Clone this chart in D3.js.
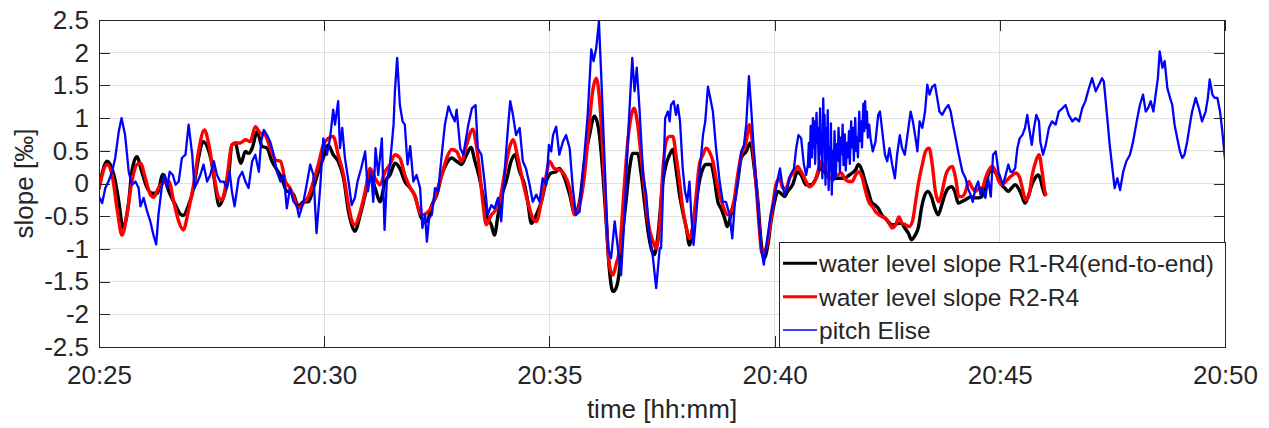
<!DOCTYPE html>
<html>
<head>
<meta charset="utf-8">
<script src="https://cdn.jsdelivr.net/npm/d3@7"></script>
<style>
  html, body { margin: 0; padding: 0; background: #fff; }
  svg text { font-family: "Liberation Sans", Arial, Helvetica, sans-serif; fill: #262626; }
</style>
</head>
<body>
<svg id="chart" width="1269" height="428"></svg>
<script>
// ---- data: [minutes after 20:25, slope in ‰] ----
const slopeR1R4 = [
  [0,-0.07],[0.18,0.34],[0.33,0.13],[0.44,-0.28],[0.51,-0.63],[0.53,-0.68],[0.66,-0.28],[0.73,0.18],[0.84,0.41],[0.95,0.18],[1.07,-0.07],[1.18,-0.15],[1.29,-0.15],[1.42,0.14],[1.55,-0.12],[1.70,-0.33],[1.81,-0.47],[1.87,-0.49],[1.99,-0.33],[2.10,-0.07],[2.21,0.39],[2.31,0.64],[2.40,0.57],[2.51,0.29],[2.61,-0.17],[2.66,-0.34],[2.77,-0.20],[2.88,0.13],[2.95,0.59],[3.03,0.62],[3.10,0.41],[3.15,0.31],[3.25,0.49],[3.32,0.46],[3.40,0.54],[3.51,0.79],[3.62,0.57],[3.73,0.54],[3.84,0.34],[3.95,0.21],[4.06,0.08],[4.17,-0.12],
  [4.24,-0.12],[4.32,-0.17],[4.43,-0.35],[4.54,-0.28],[4.65,-0.28],[4.76,-0.07],[4.87,0.18],[4.98,0.39],[5.09,0.59],[5.20,0.44],[5.31,0.34],[5.43,0.08],[5.54,-0.43],[5.61,-0.63],[5.68,-0.73],[5.80,-0.48],[5.91,-0.17],[6.02,0.13],[6.13,-0.07],[6.24,-0.28],[6.35,0.03],[6.46,0.13],[6.57,0.31],[6.68,0.23],[6.79,0.03],[6.91,-0.07],[7.02,-0.20],[7.09,-0.38],[7.16,-0.53],[7.28,-0.58],[7.39,-0.33],[7.50,-0.17],[7.61,0.13],[7.72,0.31],[7.83,0.39],[7.94,0.34],[8.05,0.29],[8.16,0.44],[8.26,0.55],[8.35,0.33],
  [8.45,0.08],[8.52,-0.17],[8.60,-0.48],[8.71,-0.63],[8.78,-0.79],[8.86,-0.48],[8.97,-0.12],[9.04,0.03],[9.15,0.34],[9.23,0.44],[9.34,0.18],[9.45,-0.02],[9.52,-0.28],[9.60,-0.61],[9.71,-0.48],[9.82,-0.28],[9.93,0.03],[10.04,0.16],[10.15,0.18],[10.22,0.23],[10.34,0.08],[10.45,-0.17],[10.56,-0.45],[10.67,-0.28],[10.78,0.34],[10.89,0.74],[11.00,1.03],[11.10,0.80],[11.19,0.13],[11.26,-0.58],[11.33,-1.30],[11.41,-1.65],[11.48,-1.60],[11.56,-1.30],[11.63,-0.73],[11.70,-0.28],[11.78,0.23],[11.85,0.46],[11.96,0.46],[12.04,0.13],[12.11,-0.28],[12.19,-0.73],[12.26,-0.99],[12.33,-1.09],[12.41,-0.79],[12.52,0.03],
  [12.59,0.29],[12.67,0.44],[12.74,0.52],[12.81,0.23],[12.89,-0.17],[12.96,-0.43],[13.04,-0.68],[13.11,-0.94],[13.18,-0.68],[13.26,-0.28],[13.33,0.03],[13.41,0.23],[13.48,0.29],[13.59,0.29],[13.66,0.08],[13.74,-0.28],[13.81,-0.38],[13.89,-0.53],[13.95,-0.66],[14.03,-0.48],[14.11,-0.28],[14.18,0.03],[14.26,0.39],[14.37,0.49],[14.46,0.62],[14.55,0.23],[14.63,-0.28],[14.70,-0.89],[14.77,-1.14],[14.85,-0.94],[14.92,-0.58],[15.00,-0.28],[15.07,-0.12],[15.14,-0.15],[15.22,-0.20],[15.29,-0.12],[15.40,-0.02],[15.51,0.18],[15.59,0.13],[15.70,-0.02],[15.81,-0.02],[15.92,0.08],[16.02,0.23],[16.11,0.18],[16.22,0.08],[16.33,0.08],[16.44,0.08],[16.55,0.08],[16.66,0.13],
  [16.72,0.16],[16.80,0.21],[16.86,0.29],[16.95,0.18],[17.01,0.03],[17.08,-0.12],[17.15,-0.28],[17.23,-0.33],[17.30,-0.38],[17.38,-0.48],[17.45,-0.53],[17.52,-0.58],[17.60,-0.63],[17.67,-0.63],[17.75,-0.61],[17.82,-0.61],[17.89,-0.68],[17.97,-0.76],[18.04,-0.86],[18.12,-0.79],[18.19,-0.68],[18.26,-0.38],[18.34,-0.17],[18.41,-0.12],[18.49,-0.22],[18.56,-0.38],[18.63,-0.48],[18.71,-0.33],[18.78,-0.17],[18.86,-0.07],[18.93,-0.05],[19.00,-0.12],[19.08,-0.30],[19.15,-0.28],[19.23,-0.25],[19.30,-0.22],[19.37,-0.20],[19.45,-0.22],[19.52,-0.22],[19.60,-0.20],[19.67,-0.07],[19.74,0.13],[19.82,0.21],[19.89,0.18],[19.97,0.08],[20.04,-0.02],[20.11,-0.07],[20.19,-0.12],[20.26,-0.07],[20.34,-0.02],[20.41,-0.07],[20.48,-0.17],[20.56,-0.30],[20.63,-0.20],[20.71,-0.02],[20.78,0.08],[20.85,0.13],[20.91,0.05],[20.95,-0.07],[21.00,-0.17]
];

const slopeR2R4 = [
  [0,-0.07],[0.18,0.29],[0.29,0.13],[0.40,-0.38],[0.51,-0.79],[0.62,-0.48],[0.73,0.03],[0.84,0.29],[0.92,0.31],[1.03,0.08],[1.14,-0.17],[1.21,-0.21],[1.32,-0.07],[1.44,0.01],[1.55,0.03],[1.66,-0.28],[1.77,-0.58],[1.87,-0.71],[1.99,-0.40],[2.10,-0.02],[2.21,0.49],[2.34,0.82],[2.44,0.59],[2.55,0.13],[2.66,-0.22],[2.73,-0.25],[2.84,0.08],[2.95,0.59],[3.03,0.62],[3.14,0.62],[3.25,0.67],[3.36,0.64],[3.47,0.87],[3.58,0.77],[3.69,0.74],[3.80,0.54],[3.92,0.36],[4.03,0.34],[4.14,0.03],
  [4.24,-0.07],[4.32,-0.20],[4.43,-0.38],[4.54,-0.30],[4.65,-0.20],[4.76,0.03],[4.87,0.29],[4.98,0.59],[5.09,0.69],[5.20,0.72],[5.31,0.44],[5.43,0.13],[5.54,-0.33],[5.61,-0.56],[5.68,-0.63],[5.80,-0.43],[5.91,-0.12],[6.02,0.23],[6.13,0.08],[6.24,-0.02],[6.35,0.18],[6.46,0.29],[6.57,0.44],[6.68,0.39],[6.79,0.13],[6.91,-0.07],[7.02,-0.20],[7.09,-0.38],[7.16,-0.48],[7.28,-0.45],[7.39,-0.35],[7.50,-0.12],[7.61,0.13],[7.72,0.39],[7.83,0.52],[7.94,0.49],[8.05,0.34],[8.16,0.59],[8.30,0.83],[8.37,0.62],
  [8.45,0.20],[8.52,-0.28],[8.60,-0.63],[8.71,-0.48],[8.78,-0.43],[8.89,-0.28],[9.00,0.13],[9.11,0.54],[9.19,0.67],[9.30,0.39],[9.41,0.03],[9.52,-0.28],[9.63,-0.53],[9.71,-0.58],[9.82,-0.28],[9.93,0.13],[10.00,0.34],[10.11,0.23],[10.22,0.21],[10.34,0.13],[10.45,-0.07],[10.56,-0.48],[10.67,-0.33],[10.78,0.13],[10.89,0.95],[10.96,1.41],[11.04,1.61],[11.11,1.31],[11.19,0.44],[11.26,-0.48],[11.33,-1.24],[11.41,-1.40],[11.48,-1.24],[11.56,-0.99],[11.67,0.03],[11.74,0.64],[11.82,1.05],[11.88,1.15],[11.96,0.90],[12.04,0.39],[12.11,-0.07],[12.19,-0.58],[12.30,-0.89],[12.37,-0.99],[12.45,-0.63],[12.52,0.20],
  [12.59,0.64],[12.67,0.72],[12.74,0.72],[12.81,0.44],[12.89,0.03],[12.96,-0.38],[13.04,-0.68],[13.11,-0.84],[13.18,-0.68],[13.26,-0.17],[13.33,0.29],[13.41,0.44],[13.48,0.54],[13.55,0.49],[13.63,0.34],[13.70,0.08],[13.78,-0.17],[13.85,-0.33],[13.96,-0.48],[14.03,-0.43],[14.11,-0.22],[14.18,0.13],[14.26,0.44],[14.37,0.64],[14.44,0.90],[14.52,0.54],[14.59,-0.02],[14.66,-0.68],[14.72,-1.07],[14.81,-0.99],[14.89,-0.68],[14.96,-0.33],[15.03,-0.02],[15.11,0.08],[15.18,-0.07],[15.26,-0.07],[15.33,0.08],[15.44,0.18],[15.51,0.26],[15.59,0.18],[15.70,0.03],[15.77,-0.05],[15.89,0.03],[15.96,0.18],[16.03,0.34],[16.11,0.23],[16.18,0.13],[16.26,0.08],[16.33,0.13],[16.40,0.13],[16.48,0.16],[16.55,0.08],[16.66,0.03],
  [16.72,0.03],[16.80,0.13],[16.87,0.18],[16.95,0.08],[17.02,-0.12],[17.09,-0.28],[17.17,-0.35],[17.24,-0.43],[17.32,-0.48],[17.39,-0.51],[17.46,-0.53],[17.54,-0.61],[17.61,-0.68],[17.69,-0.63],[17.76,-0.51],[17.83,-0.61],[17.91,-0.63],[17.98,-0.66],[18.06,-0.58],[18.13,-0.28],[18.20,0.03],[18.28,0.29],[18.35,0.49],[18.43,0.54],[18.50,0.29],[18.57,-0.12],[18.65,-0.28],[18.72,-0.12],[18.80,0.13],[18.87,0.23],[18.94,0.26],[19.02,0.08],[19.09,-0.20],[19.17,-0.20],[19.24,-0.12],[19.31,0.03],[19.39,-0.07],[19.46,-0.12],[19.54,-0.07],[19.61,-0.07],[19.68,0.08],[19.76,0.21],[19.83,0.26],[19.91,0.18],[19.98,0.03],[20.05,-0.02],[20.13,0.03],[20.20,0.08],[20.28,0.13],[20.35,0.16],[20.43,0.11],[20.50,-0.07],[20.57,-0.25],[20.65,-0.17],[20.72,0.13],[20.80,0.34],[20.87,0.44],[20.94,0.18],[21.00,-0.12],[21.02,-0.17]
];

const pitchElise = [
  [0,-0.20],[0.07,-0.30],[0.14,-0.07],[0.21,0.03],[0.29,0.18],[0.36,0.39],[0.44,0.80],[0.50,1.00],[0.58,0.74],[0.66,0.18],[0.73,-0.02],[0.81,0.03],[0.88,-0.07],[0.92,-0.35],[0.99,-0.22],[1.07,-0.43],[1.14,-0.58],[1.21,-0.79],[1.27,-0.93],[1.32,-0.48],[1.40,-0.02],[1.46,0.13],[1.51,-0.07],[1.57,0.18],[1.64,0.13],[1.70,-0.02],[1.77,0.03],[1.84,0.39],[1.92,0.44],[1.99,0.90],[2.07,0.44],[2.12,-0.07],[2.18,0.01],[2.25,0.13],[2.32,0.29],[2.40,0.03],[2.47,0.13],[2.55,0.34],[2.62,0.13],[2.69,0.03],[2.77,0.03],[2.84,-0.07],[2.90,0.18],[2.95,-0.12],[3.01,-0.35],[3.10,0.08],[3.18,0.18],[3.25,0.03],[3.32,-0.07],[3.40,0.34],[3.47,0.44],[3.55,0.18],[3.60,0.64],[3.66,0.82],[3.73,0.74],[3.80,0.64],[3.88,0.44],[3.95,0.18],[4.03,0.03],[4.10,0.13],
  [4.17,-0.38],[4.24,-0.07],[4.32,-0.28],[4.39,-0.33],[4.44,-0.51],[4.54,-0.28],[4.61,-0.02],[4.69,0.29],[4.76,0.13],[4.83,-0.76],[4.91,-0.07],[4.98,0.69],[5.06,0.44],[5.13,0.69],[5.20,1.13],[5.24,0.90],[5.31,1.26],[5.35,0.54],[5.40,0.85],[5.46,0.39],[5.54,0.03],[5.61,-0.33],[5.68,-0.22],[5.74,0.03],[5.82,0.23],[5.91,0.49],[5.97,-0.12],[6.04,0.18],[6.09,-0.28],[6.14,0.54],[6.20,0.13],[6.28,0.69],[6.34,-0.71],[6.39,0.03],[6.46,0.29],[6.54,0.90],[6.57,1.41],[6.62,1.92],[6.68,1.20],[6.74,0.95],[6.79,0.90],[6.85,0.29],[6.91,0.57],[6.98,0.03],[7.05,0.13],[7.13,-0.07],[7.18,-0.68],[7.24,-0.48],[7.28,-0.89],[7.33,-0.53],[7.39,-0.48],[7.46,-0.07],[7.53,-0.12],[7.61,0.44],[7.68,0.90],[7.76,1.18],[7.83,1.05],[7.90,0.95],[7.94,1.13],[8.02,0.54],[8.09,0.44],[8.20,0.90],[8.28,1.15],
  [8.36,1.20],[8.41,0.54],[8.49,0.44],[8.56,0.03],[8.63,-0.48],[8.71,-0.33],[8.78,-0.38],[8.86,-0.22],[8.93,-0.58],[9.00,0.13],[9.08,0.85],[9.13,1.26],[9.19,1.05],[9.26,0.74],[9.34,0.85],[9.41,0.34],[9.48,0.23],[9.56,-0.02],[9.63,-0.28],[9.71,-0.17],[9.78,-0.28],[9.85,0.08],[9.93,-0.02],[9.99,0.59],[10.04,0.49],[10.08,0.74],[10.15,0.87],[10.22,0.44],[10.30,0.64],[10.37,0.74],[10.45,0.54],[10.52,-0.07],[10.59,-0.48],[10.67,-0.43],[10.74,0.13],[10.85,1.05],[10.93,2.05],[10.98,1.87],[11.04,2.07],[11.10,2.48],[11.15,1.66],[11.22,0.44],[11.30,-0.99],[11.37,-1.14],[11.45,-0.58],[11.52,-0.99],[11.59,-1.40],[11.67,-0.48],[11.74,0.64],[11.84,1.92],[11.89,1.41],[11.94,1.77],[12.00,1.15],[12.08,0.13],[12.15,-0.17],[12.22,-0.79],[12.30,-1.14],[12.37,-1.60],[12.45,-0.99],[12.48,-0.99],
  [12.52,-0.17],[12.57,1.00],[12.63,1.10],[12.67,0.95],[12.70,1.20],[12.76,1.26],[12.81,1.05],[12.85,1.20],[12.90,0.95],[12.96,0.23],[13.01,-0.12],[13.06,-0.28],[13.11,0.03],[13.15,-0.48],[13.20,-0.94],[13.26,-0.48],[13.33,0.13],[13.41,0.74],[13.46,0.95],[13.52,1.48],[13.57,1.31],[13.63,1.10],[13.70,0.54],[13.78,0.03],[13.85,-0.28],[13.92,-0.28],[14.00,-0.48],[14.06,-0.84],[14.12,-0.28],[14.20,0.13],[14.26,0.49],[14.32,0.59],[14.37,0.90],[14.43,1.64],[14.48,1.15],[14.55,0.39],[14.63,-0.38],[14.70,-0.99],[14.76,-1.24],[14.83,-0.89],[14.91,-0.48],[14.98,-0.28],[15.06,0.03],[15.12,0.23],[15.16,0.03],[15.22,-0.17],[15.28,-0.07],[15.35,0.13],[15.43,0.23],[15.48,0.54],[15.53,0.74],[15.59,0.69],[15.65,0.29],[15.70,0.13],[15.74,0.29],
  [15.76,0.62],[15.78,0.25],[15.80,0.88],[15.83,0.40],[15.85,1.00],[15.87,0.55],[15.88,0.95],[15.90,0.30],[15.93,1.08],[15.95,0.62],[15.96,0.85],[15.98,0.20],[16.01,1.15],[16.03,0.45],[16.04,0.70],[16.06,0.08],[16.08,1.30],[16.10,0.60],[16.11,1.05],[16.13,-0.02],[16.15,0.85],[16.16,0.40],[16.18,1.12],[16.20,-0.10],[16.22,0.55],[16.24,0.20],[16.25,0.92],[16.27,-0.17],[16.29,0.50],[16.31,0.05],[16.33,0.80],[16.36,0.10],[16.38,0.60],[16.40,0.35],[16.42,0.85],[16.45,0.18],[16.47,0.70],[16.49,0.45],[16.51,0.90],[16.53,0.28],[16.56,0.75],[16.58,0.20],[16.61,0.62],[16.63,0.40],[16.65,0.80],[16.67,0.30],[16.70,0.95],[16.72,0.55],[16.74,0.85],[16.76,0.35],[16.79,1.00],[16.81,0.50],[16.83,0.70],[16.85,0.40],[16.88,1.10],[16.90,0.65],[16.92,0.95],[16.94,0.55],[16.97,1.22],[16.99,0.80],[17.01,1.26],[17.03,0.85],[17.05,1.10],[17.07,0.70],[17.10,0.90],
  [17.13,0.69],[17.18,0.49],[17.24,0.64],[17.30,1.05],[17.34,1.10],[17.39,0.80],[17.45,0.44],[17.50,0.34],[17.55,0.54],[17.61,0.29],[17.67,0.08],[17.72,0.44],[17.78,0.74],[17.83,0.54],[17.89,0.44],[17.95,0.74],[18.02,1.10],[18.07,0.95],[18.13,0.69],[18.17,0.49],[18.22,0.95],[18.28,0.85],[18.34,1.10],[18.39,1.51],[18.44,1.36],[18.50,1.48],[18.56,1.51],[18.61,1.31],[18.66,1.10],[18.72,1.05],[18.80,1.15],[18.86,1.20],[18.91,1.10],[18.96,0.90],[19.02,0.69],[19.09,0.44],[19.17,0.18],[19.24,0.08],[19.29,-0.07],[19.35,-0.17],[19.40,-0.28],[19.46,-0.07],[19.52,0.03],[19.57,-0.17],[19.61,-0.07],[19.68,-0.22],[19.74,0.08],[19.80,-0.20],[19.85,0.44],[19.91,0.49],[19.97,0.18],[20.02,0.08],[20.07,-0.02],[20.13,0.13],[20.19,0.29],[20.24,0.18],[20.28,0.18],[20.34,0.23],[20.39,0.54],[20.44,0.69],[20.50,0.74],[20.56,0.85],[20.61,1.05],[20.65,0.85],[20.71,0.59],[20.76,0.85],[20.81,1.05],[20.87,0.95],
  [20.90,0.64],[20.96,0.44],[21.02,0.59],[21.09,0.85],[21.16,0.95],[21.24,0.90],[21.31,1.10],[21.39,1.15],[21.46,1.20],[21.53,1.05],[21.61,0.95],[21.68,1.00],[21.76,0.95],[21.83,1.15],[21.90,1.26],[21.98,1.46],[22.05,1.61],[22.13,1.41],[22.20,1.51],[22.27,1.61],[22.31,1.56],[22.38,1.05],[22.44,0.59],[22.50,0.23],[22.55,-0.07],[22.61,0.08],[22.67,-0.10],[22.74,0.18],[22.81,0.34],[22.89,0.44],[22.96,0.64],[23.04,0.95],[23.11,1.20],[23.18,1.36],[23.24,1.10],[23.29,1.15],[23.35,1.26],[23.41,1.10],[23.46,1.36],[23.51,1.61],[23.55,2.02],[23.61,1.77],[23.66,1.87],[23.72,1.46],[23.78,1.31],[23.83,1.20],[23.88,0.90],[23.94,0.69],[24.00,0.49],[24.05,0.39],[24.10,0.44],[24.16,0.64],[24.22,0.90],[24.27,1.10],[24.35,1.31],[24.42,1.15],[24.49,0.95],[24.57,1.10],[24.62,1.31],[24.66,1.59],[24.72,1.36],[24.77,1.31],[24.83,1.31],[24.89,1.10],[24.94,0.80],[25.00,0.37]
];

const seriesNames = ["water level slope R1-R4(end-to-end)", "water level slope R2-R4", "pitch Elise"];
const seriesColors = ["#000000", "#ff0000", "#0000ff"];
const xTickLabels = ["20:25", "20:30", "20:35", "20:40", "20:45", "20:50"];
const yTickValues = [-2.5, -2, -1.5, -1, -0.5, 0, 0.5, 1, 1.5, 2, 2.5];
const yTickLabels = ["-2.5", "-2", "-1.5", "-1", "-0.5", "0", "0.5", "1", "1.5", "2", "2.5"];
const xLabel = "time [hh:mm]";
const yLabel = "slope [‰]";

// ---- layout ----
const plot = { left: 99, top: 20, right: 1225, bottom: 347 };
const axisColor = "#262626";
const gridColor = "#dfdfdf";
const tickLen = 11;

const parseHM = d3.timeParse("%H:%M");
const xTicks = xTickLabels.map(parseHM);
const t0 = xTicks[0];
const toDate = m => new Date(t0.getTime() + m * 60000);

const x = d3.scaleTime()
  .domain([xTicks[0], xTicks[xTicks.length - 1]])
  .range([plot.left, plot.right]);
const y = d3.scaleLinear()
  .domain([yTickValues[0], yTickValues[yTickValues.length - 1]])
  .range([plot.bottom, plot.top]);

const svg = d3.select("#chart");

// grid
const grid = svg.append("g").attr("shape-rendering", "crispEdges");
grid.selectAll("line.gy")
  .data(yTickValues.slice(1, -1))
  .join("line")
  .attr("x1", plot.left).attr("x2", plot.right)
  .attr("y1", d => y(d)).attr("y2", d => y(d))
  .attr("stroke", gridColor).attr("stroke-width", 1);
grid.selectAll("line.gx")
  .data(xTicks.slice(1, -1))
  .join("line")
  .attr("y1", plot.top).attr("y2", plot.bottom)
  .attr("x1", d => x(d)).attr("x2", d => x(d))
  .attr("stroke", gridColor).attr("stroke-width", 1);

// series
svg.append("clipPath").attr("id", "plotClip")
  .append("rect")
  .attr("x", plot.left).attr("y", plot.top)
  .attr("width", plot.right - plot.left).attr("height", plot.bottom - plot.top);

const smoothLine = d3.line()
  .x(d => x(toDate(d[0])))
  .y(d => y(d[1]))
  .curve(d3.curveMonotoneX);
const rawLine = d3.line()
  .x(d => x(toDate(d[0])))
  .y(d => y(d[1]));

const series = [slopeR1R4, slopeR2R4, pitchElise];
const widths = [3.4, 3.4, 2.3];
const lines = svg.append("g").attr("clip-path", "url(#plotClip)");
series.forEach((s, i) => {
  lines.append("path")
    .datum(s)
    .attr("d", i < 2 ? smoothLine : rawLine)
    .attr("fill", "none")
    .attr("stroke", seriesColors[i])
    .attr("stroke-width", widths[i])
    .attr("stroke-linejoin", "round")
    .attr("stroke-linecap", "round");
});

// axes (ticks point inward, box on all four sides)
function styleAxis(g) {
  g.select(".domain").remove();
  g.selectAll(".tick line").attr("stroke", axisColor);
  g.selectAll(".tick text")
    .attr("fill", axisColor)
    .attr("font-size", 26)
    .attr("font-family", "'Liberation Sans', Arial, Helvetica, sans-serif");
}

svg.append("g")
  .attr("transform", `translate(0,${plot.bottom})`)
  .attr("shape-rendering", "crispEdges")
  .call(d3.axisBottom(x).tickValues(xTicks).tickFormat(d3.timeFormat("%H:%M"))
    .tickSizeInner(-tickLen).tickSizeOuter(0).tickPadding(19))
  .call(styleAxis);

svg.append("g")
  .attr("transform", `translate(0,${plot.top})`)
  .attr("shape-rendering", "crispEdges")
  .call(d3.axisTop(x).tickValues(xTicks).tickFormat("")
    .tickSizeInner(-tickLen).tickSizeOuter(0))
  .call(styleAxis);

svg.append("g")
  .attr("transform", `translate(${plot.left},0)`)
  .attr("shape-rendering", "crispEdges")
  .call(d3.axisLeft(y).tickValues(yTickValues).tickFormat((d, i) => yTickLabels[i])
    .tickSizeInner(-tickLen).tickSizeOuter(0).tickPadding(10))
  .call(styleAxis);

svg.append("g")
  .attr("transform", `translate(${plot.right},0)`)
  .attr("shape-rendering", "crispEdges")
  .call(d3.axisRight(y).tickValues(yTickValues).tickFormat("")
    .tickSizeInner(-tickLen).tickSizeOuter(0))
  .call(styleAxis);

// box
svg.append("rect")
  .attr("x", plot.left + 0.5).attr("y", plot.top + 0.5)
  .attr("width", plot.right - plot.left - 1).attr("height", plot.bottom - plot.top)
  .attr("fill", "none").attr("stroke", axisColor).attr("stroke-width", 1);

// axis labels
svg.append("text")
  .attr("x", (plot.left + plot.right) / 2).attr("y", 418)
  .attr("text-anchor", "middle").attr("font-size", 26)
  .text(xLabel);

svg.append("text")
  .attr("transform", `translate(33,${(plot.top + plot.bottom) / 2}) rotate(-90)`)
  .attr("text-anchor", "middle").attr("font-size", 26)
  .text(yLabel);

// legend
const legend = svg.append("g");
legend.append("rect")
  .attr("x", 779.5).attr("y", 242.5).attr("width", 446).attr("height", 105)
  .attr("fill", "#fff").attr("stroke", axisColor).attr("stroke-width", 1);
const rowY = [263.3, 296.7, 330];
seriesNames.forEach((name, i) => {
  legend.append("line")
    .attr("x1", 783).attr("x2", 817)
    .attr("y1", rowY[i]).attr("y2", rowY[i])
    .attr("stroke", seriesColors[i]).attr("stroke-width", i < 2 ? 3 : 1.5);
  legend.append("text")
    .attr("x", 819).attr("y", rowY[i]).attr("dy", "0.36em")
    .attr("font-size", 24.5).attr("fill", "#000")
    .text(name);
});
</script>
</body>
</html>
